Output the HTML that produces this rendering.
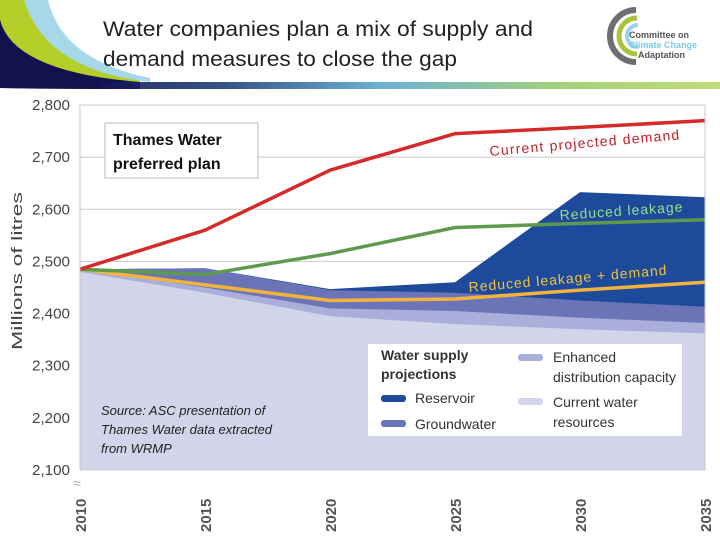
<!DOCTYPE html>
<html><head><meta charset="utf-8"><style>
html,body{margin:0;padding:0;background:#fff;}
body{width:720px;height:540px;overflow:hidden;font-family:"Liberation Sans",sans-serif;}
</style></head><body>
<svg id="chart" width="720" height="540" viewBox="0 0 720 540" xmlns="http://www.w3.org/2000/svg">
<defs>
<linearGradient id="band" x1="0" x2="1" y1="0" y2="0">
<stop offset="0" stop-color="#14145a"/><stop offset="0.2" stop-color="#1f3f78"/><stop offset="0.45" stop-color="#5aa8cf"/><stop offset="0.75" stop-color="#9ccc6a"/><stop offset="1" stop-color="#b8d86a"/>
</linearGradient>
</defs>
<g>
<path d="M0,0 L28,0 Q48,66 140,80 L140,84 Q20,74 0,22 Z" fill="#b5cf2a"/>
<path d="M24,0 L48,0 Q62,60 150,78 L150,82 Q45,70 24,0 Z" fill="#a6d8ea"/>
<path d="M0,20 Q14,72 140,82 L140,89 Q40,89 0,88 Z" fill="#12124f"/>
<rect x="100" y="82" width="620" height="7" fill="url(#band)" opacity="0.9"/>
</g>
<g font-family="Liberation Sans, sans-serif" font-size="21" fill="#222">
<text x="103" y="36" textLength="430" lengthAdjust="spacingAndGlyphs">Water companies plan a mix of supply and</text>
<text x="103" y="66" textLength="354" lengthAdjust="spacingAndGlyphs">demand measures to close the gap</text>
</g>
<g>
<path d="M636,10 A26,26 0 0 0 636,62" fill="none" stroke="#6d6e71" stroke-width="6"/>
<path d="M637,18 A18,18 0 0 0 637,54" fill="none" stroke="#a9c43a" stroke-width="5"/>
<path d="M638,25 A11,11 0 0 0 638,47" fill="none" stroke="#9ad3ea" stroke-width="4"/>
<text x="629" y="38" font-size="9" font-weight="bold" fill="#555">Committee on</text>
<text x="629" y="48" font-size="9" font-weight="bold" fill="#7cc8e5">Climate Change</text>
<text x="638" y="58" font-size="9" font-weight="bold" fill="#555">Adaptation</text>
</g>
<g id="plot"></g>
</svg>
<script>
const years = [2010, 2015, 2020, 2025, 2030, 2035];
const currentResources = [2480, 2440, 2395, 2380, 2370, 2362];
const enhancedDistribution = [2485, 2450, 2410, 2405, 2392, 2382];
const groundwater = [2485, 2487, 2445, 2440, 2425, 2413];
const reservoir = [2485, 2487, 2447, 2460, 2633, 2623];
const demand = [2485, 2560, 2675, 2745, 2757, 2770];
const reducedLeakage = [2485, 2475, 2515, 2565, 2573, 2580];
const leakageDemand = [2485, 2455, 2425, 2428, 2445, 2460];
const yTicks = [2100, 2200, 2300, 2400, 2500, 2600, 2700, 2800];
const xTicks = [2010, 2015, 2020, 2025, 2030, 2035];

const X0 = 80, X1 = 705, Y0 = 470, Y1 = 105;
const xs = y => X0 + (y - 2010) / 25 * (X1 - X0);
const ys = v => Y0 - (v - 2100) / 700 * (Y0 - Y1);
const NS = 'http://www.w3.org/2000/svg';
const plot = document.getElementById('plot');
function mk(tag, attrs, parent) {
  const e = document.createElementNS(NS, tag);
  for (const k in attrs) e.setAttribute(k, attrs[k]);
  (parent || plot).appendChild(e);
  return e;
}
yTicks.forEach(t => {
  const g = mk('line', {x1: X0, x2: X1, y1: ys(t), y2: ys(t), stroke: '#c8c8c8', 'stroke-width': 1});
  
  
  const l = mk('text', {x: 70, y: ys(t) + 5, 'text-anchor': 'end', 'font-size': 15, fill: '#444', 'font-family': 'Liberation Sans, sans-serif', 'textLength': 38, 'lengthAdjust': 'spacingAndGlyphs'});
  l.textContent = t.toLocaleString('en-US');
  
  
});
function area(vals, color, name) {
  let d = 'M' + xs(years[0]) + ',' + ys(2100);
  years.forEach((y, i) => { d += ' L' + xs(y) + ',' + ys(vals[i]); });
  d += ' L' + xs(years[years.length - 1]) + ',' + ys(2100) + ' Z';
  const p = mk('path', {d: d, fill: color});
  
  
}
area(reservoir, '#1d4a9a', 'reservoir-area');
area(groundwater, '#6b74b6', 'groundwater-area');
area(enhancedDistribution, '#a9aedb', 'enhanced-distribution-area');
area(currentResources, '#d2d4e9', 'current-resources-area');
function line(vals, color, name) {
  const pts = years.map((y, i) => xs(y) + ',' + ys(vals[i])).join(' ');
  const p = mk('polyline', {points: pts, fill: 'none', stroke: color, 'stroke-width': 3.5, 'stroke-linejoin': 'round'});
  
  
}
line(leakageDemand, '#f2b33d', 'reduced-leakage-demand-line');
line(reducedLeakage, '#5e9a4e', 'reduced-leakage-line');
line(demand, '#d42a2a', 'current-demand-line');
const ax = mk('path', {d: `M${X0},${Y0} L${X0},${Y1} L${X1},${Y1} L${X1},${Y0}`, fill: 'none', stroke: '#c8c8c8', 'stroke-width': 1});


xTicks.forEach(t => {
  const l = mk('text', {transform: `translate(${xs(t) + 6},532) rotate(-90)`, 'font-size': 15, 'font-weight': 'bold', fill: '#555', 'font-family': 'Liberation Sans, sans-serif'});
  l.textContent = t;
  
  
});
</script>
<svg style="position:absolute;left:0;top:0" width="720" height="540" xmlns="http://www.w3.org/2000/svg" font-family="Liberation Sans, sans-serif">
<text transform="translate(22,350) rotate(-90)" font-size="15" fill="#444" textLength="158" lengthAdjust="spacingAndGlyphs">Millions of litres</text>
<text x="73" y="488" font-size="14" fill="#aaa">≈</text>
<g>
<rect x="105" y="123" width="153" height="55" fill="#fff" stroke="#bbb"/>
<text x="113" y="145" font-size="16" font-weight="bold" fill="#111">Thames Water</text>
<text x="113" y="169" font-size="16" font-weight="bold" fill="#111">preferred plan</text>
</g>
<text transform="translate(490,156) rotate(-5)" font-size="14" fill="#c0202a" letter-spacing="1.2">Current projected demand</text>
<text transform="translate(560,220) rotate(-4)" font-size="14" fill="#9ddc8a" letter-spacing="1">Reduced leakage</text>
<text transform="translate(469,292) rotate(-5)" font-size="14" fill="#f2c23d" letter-spacing="1">Reduced leakage  + demand</text>
<g font-size="14">
<rect x="368" y="344" width="314" height="92" fill="#fff"/>
<text x="381" y="360" font-weight="bold" fill="#333">Water supply</text>
<text x="381" y="379" font-weight="bold" fill="#333">projections</text>
<rect x="381" y="395" width="25" height="7" rx="3" fill="#1d4a9a"/>
<text x="415" y="403" fill="#333">Reservoir</text>
<rect x="381" y="420" width="25" height="7" rx="3" fill="#6b74b6"/>
<text x="415" y="429" fill="#333">Groundwater</text>
<rect x="518" y="354" width="25" height="7" rx="3" fill="#a9aedb"/>
<text x="553" y="362" fill="#333">Enhanced</text>
<text x="553" y="382" fill="#333">distribution capacity</text>
<rect x="518" y="398" width="25" height="7" rx="3" fill="#d2d4e9"/>
<text x="553" y="407" fill="#333">Current water</text>
<text x="553" y="427" fill="#333">resources</text>
</g>
<g font-size="13" font-style="italic" fill="#222">
<text x="101" y="415">Source:  ASC presentation of</text>
<text x="101" y="434">Thames Water data extracted</text>
<text x="101" y="453">from WRMP</text>
</g>
</svg>
</body></html>
